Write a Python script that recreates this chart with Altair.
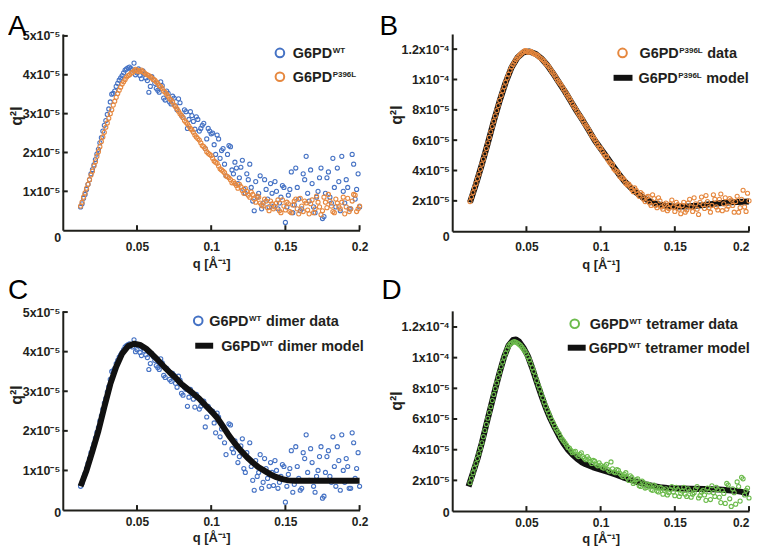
import altair as alt
import pandas as pd

# ---------------- data (q in 1/Angstrom, q^2 I in units of 1e-5) ----------------
Q_A = [0.012, 0.014, 0.016, 0.018, 0.020, 0.022, 0.024, 0.026, 0.028, 0.030,
       0.032, 0.034, 0.036, 0.038, 0.040, 0.042, 0.044, 0.046, 0.048, 0.050,
       0.052, 0.054, 0.056, 0.058, 0.060, 0.062, 0.064, 0.066, 0.068, 0.070,
       0.072, 0.074, 0.076, 0.078, 0.080, 0.082, 0.084, 0.086, 0.088, 0.090,
       0.092, 0.094, 0.096, 0.098, 0.100, 0.102, 0.104, 0.106, 0.108, 0.110,
       0.112, 0.114, 0.116, 0.118, 0.120, 0.122, 0.124, 0.126, 0.128, 0.130,
       0.132, 0.134, 0.136, 0.138, 0.140, 0.142, 0.144, 0.146, 0.148, 0.150,
       0.152, 0.154, 0.156, 0.158, 0.160, 0.162, 0.164, 0.166, 0.168, 0.170,
       0.172, 0.174, 0.176, 0.178, 0.180, 0.182, 0.184, 0.186, 0.188, 0.190,
       0.192, 0.194, 0.196, 0.198, 0.200]
Q_B = [0.013, 0.015, 0.017, 0.019, 0.021, 0.023, 0.025, 0.027, 0.029, 0.031,
       0.033, 0.035, 0.037, 0.039, 0.041, 0.043, 0.045, 0.047, 0.049, 0.051,
       0.053, 0.055, 0.057, 0.059, 0.061, 0.063, 0.065, 0.067, 0.069, 0.071,
       0.073, 0.075, 0.077, 0.079, 0.081, 0.083, 0.085, 0.087, 0.089, 0.091,
       0.093, 0.095, 0.097, 0.099, 0.101, 0.103, 0.105, 0.107, 0.109, 0.111,
       0.113, 0.115, 0.117, 0.119, 0.121, 0.123, 0.125, 0.127, 0.129, 0.131,
       0.133, 0.135, 0.137, 0.139, 0.141, 0.143, 0.145, 0.147, 0.149, 0.151,
       0.153, 0.155, 0.157, 0.159, 0.161, 0.163, 0.165, 0.167, 0.169, 0.171,
       0.173, 0.175, 0.177, 0.179, 0.181, 0.183, 0.185, 0.187, 0.189, 0.191,
       0.193, 0.195, 0.197, 0.199]

# G6PD WT (dimer) data, panels A and C
WT_A = [0.60, 0.82, 1.05, 1.30, 1.56, 1.82, 2.08, 2.38, 2.70, 2.98,
        3.30, 3.52, 3.70, 3.86, 3.98, 4.12, 4.18, 4.16, 4.30, 4.05,
        3.98, 4.10, 3.92, 3.55, 3.95, 3.78, 3.60, 3.82, 3.40, 3.58,
        3.30, 3.45, 3.20, 3.38, 2.95, 3.10, 2.62, 3.05, 2.80, 2.92,
        2.55, 2.70, 2.10, 2.62, 2.48, 2.20, 2.45, 1.85, 2.10, 1.40,
        2.18, 1.55, 1.75, 1.20, 1.62, 1.05, 1.45, 1.70, 0.75, 1.25,
        0.95, 0.55, 1.30, 0.80, 1.20, 0.62, 1.00, 0.70, 1.15, 0.20,
        0.90, 1.50, 0.65, 1.10, 0.50, 1.45, 1.90, 0.75, 1.20, 0.45,
        1.00, 1.60, 0.35, 1.35, 0.85, 1.85, 0.60, 1.25, 1.90, 0.70,
        1.10, 0.55, 1.70, 1.05, 0.60]
WT_B = [0.68, 0.92, 1.18, 1.45, 1.68, 1.96, 2.25, 2.55, 2.82, 3.12,
        3.50, 3.58, 3.78, 3.92, 4.05, 4.15, 4.20, 4.12, 4.00, 4.15,
        3.90, 4.02, 3.85, 3.70, 3.88, 3.65, 3.55, 3.72, 3.35, 3.52,
        3.25, 3.40, 3.10, 3.28, 2.90, 3.05, 2.85, 2.95, 2.60, 2.85,
        2.62, 2.75, 2.35, 2.55, 2.50, 1.95, 2.35, 2.05, 1.70, 1.95,
        2.15, 1.45, 1.60, 1.35, 1.80, 0.95, 1.30, 1.10, 0.50, 0.85,
        1.40, 0.70, 1.05, 0.60, 0.95, 1.25, 0.55, 0.85, 1.10, 0.60,
        1.05, 0.45, 1.60, 0.80, 0.55, 1.30, 0.95, 1.55, 0.60, 0.85,
        1.35, 0.30, 0.95, 1.50, 0.70, 1.10, 1.60, 0.50, 1.00, 1.30,
        0.55, 1.95, 0.80, 1.45]

# G6PD P396L data as normalised in panel A
P396L_A_A = [0.62, 0.85, 1.08, 1.30, 1.52, 1.76, 2.02, 2.28, 2.52, 2.76,
             3.00, 3.22, 3.42, 3.60, 3.76, 3.88, 3.98, 4.04, 4.10, 4.12,
             4.10, 4.08, 4.02, 3.98, 3.92, 3.86, 3.78, 3.70, 3.58, 3.50,
             3.38, 3.30, 3.18, 3.06, 2.95, 2.82, 2.74, 2.62, 2.52, 2.40,
             2.32, 2.18, 2.10, 1.98, 1.92, 1.78, 1.72, 1.58, 1.52, 1.40,
             1.35, 1.22, 1.20, 1.08, 1.12, 0.95, 1.00, 0.85, 0.92, 0.72,
             0.85, 0.65, 0.80, 0.58, 0.75, 0.55, 0.70, 0.50, 0.78, 0.52,
             0.68, 0.45, 0.75, 0.55, 0.82, 0.48, 0.70, 0.42, 0.78, 0.55,
             0.72, 0.40, 0.85, 0.58, 0.75, 0.48, 0.80, 0.60, 0.72, 0.42,
             0.82, 0.55, 0.92, 0.48, 0.62]
P396L_A_B = [0.72, 0.96, 1.18, 1.42, 1.65, 1.90, 2.15, 2.40, 2.65, 2.88,
             3.10, 3.32, 3.52, 3.68, 3.82, 3.94, 4.00, 4.06, 4.14, 4.08,
             4.12, 4.05, 4.00, 3.95, 3.88, 3.82, 3.72, 3.65, 3.55, 3.45,
             3.35, 3.22, 3.12, 3.00, 2.90, 2.78, 2.68, 2.58, 2.45, 2.36,
             2.25, 2.15, 2.02, 1.95, 1.85, 1.75, 1.65, 1.55, 1.48, 1.38,
             1.30, 1.25, 1.15, 1.18, 1.02, 1.08, 0.90, 0.98, 0.80, 0.88,
             0.70, 0.62, 0.75, 0.50, 0.68, 0.60, 0.78, 0.45, 0.62, 0.72,
             0.48, 0.65, 0.80, 0.42, 0.62, 0.75, 0.52, 0.68, 0.45, 0.88,
             0.60, 0.50, 0.72, 0.92, 0.62, 0.45, 0.70, 0.55, 0.85, 0.60,
             0.48, 0.75, 0.90, 0.55]

# G6PD P396L data, panel B
P396L_B_A = [1.95, 2.55, 3.15, 3.75, 4.42, 5.10, 5.82, 6.55, 7.25, 7.95,
             8.62, 9.25, 9.82, 10.35, 10.82, 11.15, 11.45, 11.65, 11.82, 11.88,
             11.82, 11.78, 11.66, 11.55, 11.38, 11.20, 10.95, 10.70, 10.42, 10.12,
             9.82, 9.55, 9.22, 8.90, 8.58, 8.22, 7.92, 7.60, 7.32, 6.98,
             6.68, 6.30, 6.05, 5.70, 5.48, 5.12, 4.95, 4.55, 4.40, 4.00,
             3.85, 3.50, 3.35, 3.05, 2.95, 2.60, 2.70, 2.30, 2.45, 1.95,
             2.30, 1.70, 2.15, 1.55, 2.00, 1.45, 1.85, 1.50, 2.05, 1.30,
             1.75, 1.15, 1.90, 1.40, 2.10, 1.30, 1.80, 1.10, 2.25, 1.50,
             1.95, 1.25, 2.40, 1.60, 2.10, 1.35, 2.20, 1.65, 2.05, 1.25,
             2.30, 1.55, 2.70, 1.30, 2.00]
P396L_B_B = [2.25, 2.85, 3.45, 4.08, 4.75, 5.45, 6.18, 6.90, 7.60, 8.28,
             8.95, 9.52, 10.10, 10.60, 10.98, 11.32, 11.55, 11.75, 11.90, 11.80,
             11.85, 11.70, 11.62, 11.45, 11.30, 11.05, 10.85, 10.55, 10.28, 9.95,
             9.70, 9.38, 9.05, 8.75, 8.40, 8.10, 7.75, 7.48, 7.12, 6.85,
             6.50, 6.20, 5.88, 5.55, 5.30, 4.95, 4.70, 4.45, 4.10, 3.95,
             3.60, 3.50, 3.15, 3.10, 2.75, 2.85, 2.45, 2.55, 2.10, 2.25,
             1.85, 2.40, 1.70, 2.20, 1.60, 1.75, 1.35, 1.80, 1.60, 1.90,
             1.45, 1.70, 1.25, 1.85, 1.60, 2.20, 1.45, 1.90, 1.75, 2.35,
             1.55, 1.70, 2.10, 1.40, 2.45, 1.80, 1.45, 2.15, 1.70, 1.95,
             1.25, 2.10, 1.60, 2.50]

# G6PD WT tetramer data, panel D
TET_A = [1.85, 2.50, 3.10, 3.75, 4.45, 5.25, 6.05, 6.80, 7.60, 8.35,
         9.05, 9.72, 10.30, 10.75, 10.95, 11.05, 10.95, 10.80, 10.55, 10.25,
         9.85, 9.35, 8.80, 8.20, 7.65, 7.10, 6.60, 6.15, 5.75, 5.35,
         5.05, 4.70, 4.45, 4.15, 3.95, 3.85, 3.65, 3.70, 3.55, 3.35,
         3.40, 3.10, 3.25, 2.95, 3.00, 2.80, 3.05, 2.60, 2.75, 2.50,
         2.65, 2.35, 2.40, 2.15, 2.30, 1.80, 2.05, 1.65, 1.95, 1.50,
         1.75, 1.40, 1.70, 1.30, 1.55, 1.10, 1.45, 1.20, 1.60, 1.00,
         1.40, 1.15, 1.55, 0.95, 1.30, 1.10, 1.45, 0.85, 1.25, 1.05,
         1.50, 0.75, 1.20, 1.55, 0.90, 1.35, 0.50, 1.70, 0.30, 1.20,
         1.90, 0.65, 2.10, 1.35, 0.85]
TET_B = [2.15, 2.80, 3.42, 4.10, 4.85, 5.65, 6.42, 7.20, 7.98, 8.70,
         9.40, 10.02, 10.55, 10.88, 11.02, 11.00, 10.88, 10.68, 10.42, 10.05,
         9.62, 9.10, 8.50, 7.95, 7.38, 6.85, 6.40, 5.95, 5.55, 5.20,
         4.85, 4.58, 4.30, 4.10, 3.80, 3.90, 3.55, 3.80, 3.45, 3.55,
         3.25, 3.30, 3.05, 3.15, 2.85, 2.95, 2.70, 3.20, 2.55, 2.70,
         2.45, 2.25, 2.50, 2.00, 2.20, 1.90, 2.10, 1.60, 1.85, 1.55,
         1.70, 1.35, 1.60, 1.25, 1.50, 1.35, 1.05, 1.40, 1.25, 1.55,
         0.95, 1.30, 1.10, 1.45, 0.90, 1.20, 1.60, 1.00, 1.35, 0.70,
         1.25, 1.65, 0.95, 1.40, 0.55, 1.15, 1.80, 0.80, 1.45, 0.45,
         1.60, 2.20, 1.05, 1.50]

# model curves
MODEL_B_Q = [0.012, 0.016, 0.020, 0.024, 0.028, 0.032, 0.036, 0.040, 0.044, 0.048,
             0.052, 0.056, 0.060, 0.064, 0.068, 0.072, 0.076, 0.080, 0.084, 0.088,
             0.092, 0.096, 0.100, 0.104, 0.108, 0.112, 0.116, 0.120, 0.124, 0.128,
             0.132, 0.136, 0.140, 0.144, 0.148, 0.152, 0.156, 0.160, 0.164, 0.168,
             0.172, 0.176, 0.180, 0.184, 0.188, 0.192, 0.196, 0.200]
MODEL_B_V = [1.90, 3.10, 4.40, 5.80, 7.25, 8.60, 9.80, 10.80, 11.45, 11.80,
             11.85, 11.70, 11.40, 10.95, 10.40, 9.80, 9.20, 8.55, 7.90, 7.30,
             6.65, 6.00, 5.45, 4.90, 4.35, 3.80, 3.30, 2.90, 2.55, 2.25,
             2.02, 1.85, 1.75, 1.68, 1.64, 1.62, 1.62, 1.64, 1.67, 1.71,
             1.76, 1.80, 1.84, 1.87, 1.90, 1.92, 1.94, 1.95]
MODEL_C_Q = [0.012, 0.016, 0.020, 0.024, 0.028, 0.032, 0.036, 0.040, 0.044, 0.048,
             0.052, 0.056, 0.060, 0.064, 0.068, 0.072, 0.076, 0.080, 0.084, 0.088,
             0.092, 0.096, 0.100, 0.104, 0.108, 0.112, 0.116, 0.120, 0.124, 0.128,
             0.132, 0.136, 0.140, 0.144, 0.148, 0.152, 0.156, 0.164, 0.172, 0.180,
             0.190, 0.200]
MODEL_C_V = [0.60, 1.00, 1.49, 2.00, 2.60, 3.18, 3.62, 3.95, 4.14, 4.20,
             4.17, 4.08, 3.94, 3.79, 3.63, 3.48, 3.34, 3.18, 3.06, 2.94,
             2.81, 2.65, 2.50, 2.33, 2.11, 1.88, 1.68, 1.50, 1.34, 1.20,
             1.08, 0.99, 0.90, 0.83, 0.78, 0.75, 0.74, 0.74, 0.74, 0.74,
             0.74, 0.74]
MODEL_D_Q = [0.011, 0.014, 0.017, 0.020, 0.023, 0.026, 0.029, 0.032, 0.035, 0.038,
             0.041, 0.043, 0.045, 0.048, 0.051, 0.054, 0.057, 0.060, 0.063, 0.066,
             0.069, 0.072, 0.075, 0.078, 0.081, 0.084, 0.087, 0.090, 0.095, 0.100,
             0.105, 0.110, 0.115, 0.120, 0.125, 0.130, 0.135, 0.140, 0.145, 0.150,
             0.160, 0.170, 0.180, 0.190, 0.195, 0.200]
MODEL_D_V = [1.60, 2.50, 3.40, 4.45, 5.65, 6.80, 7.95, 9.05, 10.05, 10.80,
             11.15, 11.18, 11.05, 10.65, 10.10, 9.30, 8.40, 7.55, 6.75, 6.05,
             5.45, 4.90, 4.40, 4.00, 3.68, 3.42, 3.20, 3.05, 2.85, 2.70,
             2.55, 2.38, 2.20, 2.05, 1.88, 1.75, 1.64, 1.56, 1.51, 1.48,
             1.46, 1.44, 1.40, 1.33, 1.25, 1.12]

# axis ticks / labels
X_TICKS = [0.05, 0.1, 0.15, 0.2]
X_LABELS = ["0.05", "0.1", "0.15", "0.2"]
Y_TICKS_SMALL = [1, 2, 3, 4, 5]
Y_LABELS_SMALL = ["1x10⁻⁵", "2x10⁻⁵", "3x10⁻⁵", "4x10⁻⁵", "5x10⁻⁵"]
Y_TICKS_LARGE = [2, 4, 6, 8, 10, 12]
Y_LABELS_LARGE = ["2x10⁻⁵", "4x10⁻⁵", "6x10⁻⁵", "8x10⁻⁵", "1x10⁻⁴", "1.2x10⁻⁴"]

# ---------------- styling ----------------
FONT = "Liberation Sans"
TXT = "#231f20"
AXC = "#1f1f1a"
BLUE = "#4572c4"
ORANGE = "#e6883f"
GREEN = "#6cbb4c"
BLACK = "#111111"
MAIN_FS = 14.5
SUP_FS = 8
MAIN_W = 2.723 * MAIN_FS      # width of "G6PD"
SUP_W = {"WT": 1.555 * SUP_FS, "P396L": 2.946 * SUP_FS}

ONE = pd.DataFrame({"k": [0]})


def lab_expr(vals, labs):
    parts = [f"abs(datum.value - {v}) < 1e-9 ? '{l}'" for v, l in zip(vals, labs)]
    return " : ".join(parts) + " : ''"


def panel(cfg):
    W, H = cfg["w"], cfg["h"]
    xs = alt.Scale(domain=[0, 0.2], nice=False, zero=False)
    ys = alt.Scale(domain=[0, cfg["ymax"]], nice=False, zero=False)
    xaxis = alt.Axis(values=X_TICKS, labelExpr=lab_expr(X_TICKS, X_LABELS),
                     ticks=False, tickSize=0, labelPadding=cfg["xlabpad"],
                     labelFlush=cfg["flush"], labelOverlap=False, labelBound=False,
                     labelFontSize=12, title="q [Å⁻¹]", titleY=cfg["xtitle_y"],
                     titleBaseline="middle", titleFontSize=13, grid=False)
    yaxis = alt.Axis(values=cfg["yvals"], labelExpr=lab_expr(cfg["yvals"], cfg["ylabs"]),
                     ticks=False, tickSize=0, labelPadding=3, labelOverlap=False,
                     labelBound=False, labelFontSize=12.5, title="q²I",
                     titleX=cfg["ytitle"][0], titleY=cfg["ytitle"][1], titleAngle=270,
                     titleBaseline="middle", titleAlign="center", titleFontSize=16,
                     grid=False)
    X = alt.X("q:Q", scale=xs, axis=xaxis)
    Y = alt.Y("v:Q", scale=ys, axis=yaxis)

    def pts(q, v, color):
        return alt.Chart(pd.DataFrame({"q": q, "v": v})).mark_point(
            shape="circle", filled=False, size=17, strokeWidth=1.1, color=color, opacity=1
        ).encode(x=X, y=Y)

    def model(q, v):
        return alt.Chart(pd.DataFrame({"q": q, "v": v})).mark_line(
            color=BLACK, strokeWidth=6, strokeJoin="round"
        ).encode(x=X, y=Y)

    layers = []
    for item in cfg["layers"]:
        if item[0] == "pts":
            layers.append(pts(item[1], item[2], item[3]))
        else:
            layers.append(model(item[1], item[2]))

    # inward ticks
    layers.append(alt.Chart(pd.DataFrame({"q": X_TICKS})).mark_rule(color=AXC, strokeWidth=2)
                  .encode(x=X, y=alt.value(H), y2=alt.value(H - 5)))
    layers.append(alt.Chart(pd.DataFrame({"v": cfg["yvals"]})).mark_rule(color=AXC, strokeWidth=2)
                  .encode(y=Y, x=alt.value(0), x2=alt.value(5)))

    # origin "0"
    layers.append(alt.Chart(ONE).mark_text(text="0", font=FONT, fontWeight="bold", fontSize=12.5,
                                           color=TXT, align="center", baseline="middle")
                  .encode(x=alt.value(cfg["zero"][0]), y=alt.value(cfg["zero"][1])))
    # panel letter
    layers.append(alt.Chart(ONE).mark_text(text=cfg["letter"], font=FONT, fontSize=28, color="#000",
                                           align="left", baseline="top")
                  .encode(x=alt.value(cfg["letter_xy"][0]), y=alt.value(cfg["letter_xy"][1])))

    # legend
    for row in cfg["legend"]:
        kind, color, sx, y, tx, sup, suffix = row
        if kind == "circle":
            layers.append(alt.Chart(ONE).mark_point(shape="circle", filled=False, size=75, strokeWidth=2,
                                                    color=color, opacity=1)
                          .encode(x=alt.value(sx), y=alt.value(y)))
        else:
            layers.append(alt.Chart(ONE).mark_rule(color=BLACK, strokeWidth=6)
                          .encode(x=alt.value(sx[0]), x2=alt.value(sx[1]), y=alt.value(y)))
        layers.append(alt.Chart(ONE).mark_text(text="G6PD", font=FONT, fontWeight="bold", fontSize=MAIN_FS,
                                               color=TXT, align="left", baseline="alphabetic")
                      .encode(x=alt.value(tx), y=alt.value(y + 5)))
        sx_sup = tx + MAIN_W + 0.5
        layers.append(alt.Chart(ONE).mark_text(text=sup, font=FONT, fontWeight="bold", fontSize=SUP_FS,
                                               color=TXT, align="left", baseline="alphabetic")
                      .encode(x=alt.value(sx_sup), y=alt.value(y + 0.5)))
        if suffix:
            layers.append(alt.Chart(ONE).mark_text(text=suffix, font=FONT, fontWeight="bold",
                                                   fontSize=MAIN_FS, color=TXT, align="left",
                                                   baseline="alphabetic")
                          .encode(x=alt.value(sx_sup + SUP_W[sup] + 4.5), y=alt.value(y + 5)))

    return alt.layer(*layers).properties(width=W, height=H)


pA = panel(dict(
    w=298, h=197, ymax=5.05, yvals=Y_TICKS_SMALL, ylabs=Y_LABELS_SMALL, flush=False,
    xlabpad=11, xtitle_y=33, ytitle=(-46, 82), zero=(-5, 205), letter="A", letter_xy=(-55, -21),
    layers=[("pts", Q_A, WT_A, BLUE), ("pts", Q_B, WT_B, BLUE),
            ("pts", Q_A, P396L_A_A, ORANGE), ("pts", Q_B, P396L_A_B, ORANGE)],
    legend=[("circle", BLUE, 218, 19, 231, "WT", ""),
            ("circle", ORANGE, 218, 43, 231, "P396L", "")],
))
pB = panel(dict(
    w=298, h=198, ymax=13, yvals=Y_TICKS_LARGE, ylabs=Y_LABELS_LARGE, flush=True,
    xlabpad=10, xtitle_y=33, ytitle=(-56, 81), zero=(-6, 204), letter="B", letter_xy=(-73, -21),
    layers=[("model", MODEL_B_Q, MODEL_B_V),
            ("pts", Q_A, P396L_B_A, ORANGE), ("pts", Q_B, P396L_B_B, ORANGE)],
    legend=[("circle", ORANGE, 171, 19, 188, "P396L", "data"),
            ("line", None, (162, 181), 44, 187, "P396L", "model")],
))
pC = panel(dict(
    w=298, h=200, ymax=5.03, yvals=Y_TICKS_SMALL, ylabs=Y_LABELS_SMALL, flush=False,
    xlabpad=7, xtitle_y=28, ytitle=(-46, 84), zero=(-5, 203), letter="C", letter_xy=(-55, -34),
    layers=[("pts", Q_A, WT_A, BLUE), ("pts", Q_B, WT_B, BLUE),
            ("model", MODEL_C_Q, MODEL_C_V)],
    legend=[("circle", BLUE, 136, 10, 147, "WT", "dimer data"),
            ("line", None, (133, 151), 35, 159, "WT", "dimer model")],
))
pD = panel(dict(
    w=298, h=201, ymax=13.05, yvals=Y_TICKS_LARGE, ylabs=Y_LABELS_LARGE, flush=True,
    xlabpad=7, xtitle_y=28, ytitle=(-56, 90), zero=(-6, 203), letter="D", letter_xy=(-71, -34),
    layers=[("model", MODEL_D_Q, MODEL_D_V),
            ("pts", Q_A, TET_A, GREEN), ("pts", Q_B, TET_B, GREEN)],
    legend=[("circle", GREEN, 123, 13, 138, "WT", "tetramer data"),
            ("line", None, (116, 134), 37, 137, "WT", "tetramer model")],
))

chart = alt.concat(
    pA, pB, pC, pD, columns=2,
    spacing={"row": 80, "column": 93}, bounds="flush",
).properties(
    padding={"top": 4, "left": 0, "right": 0, "bottom": 0}, background="white"
).configure_view(stroke=None).configure_axis(
    domainColor=AXC, domainWidth=2, labelFont=FONT, labelFontWeight="bold", labelColor=TXT,
    titleFont=FONT, titleFontWeight="bold", titleColor=TXT,
)

chart.save("out.html", embed_options={"renderer": "svg", "actions": False})
